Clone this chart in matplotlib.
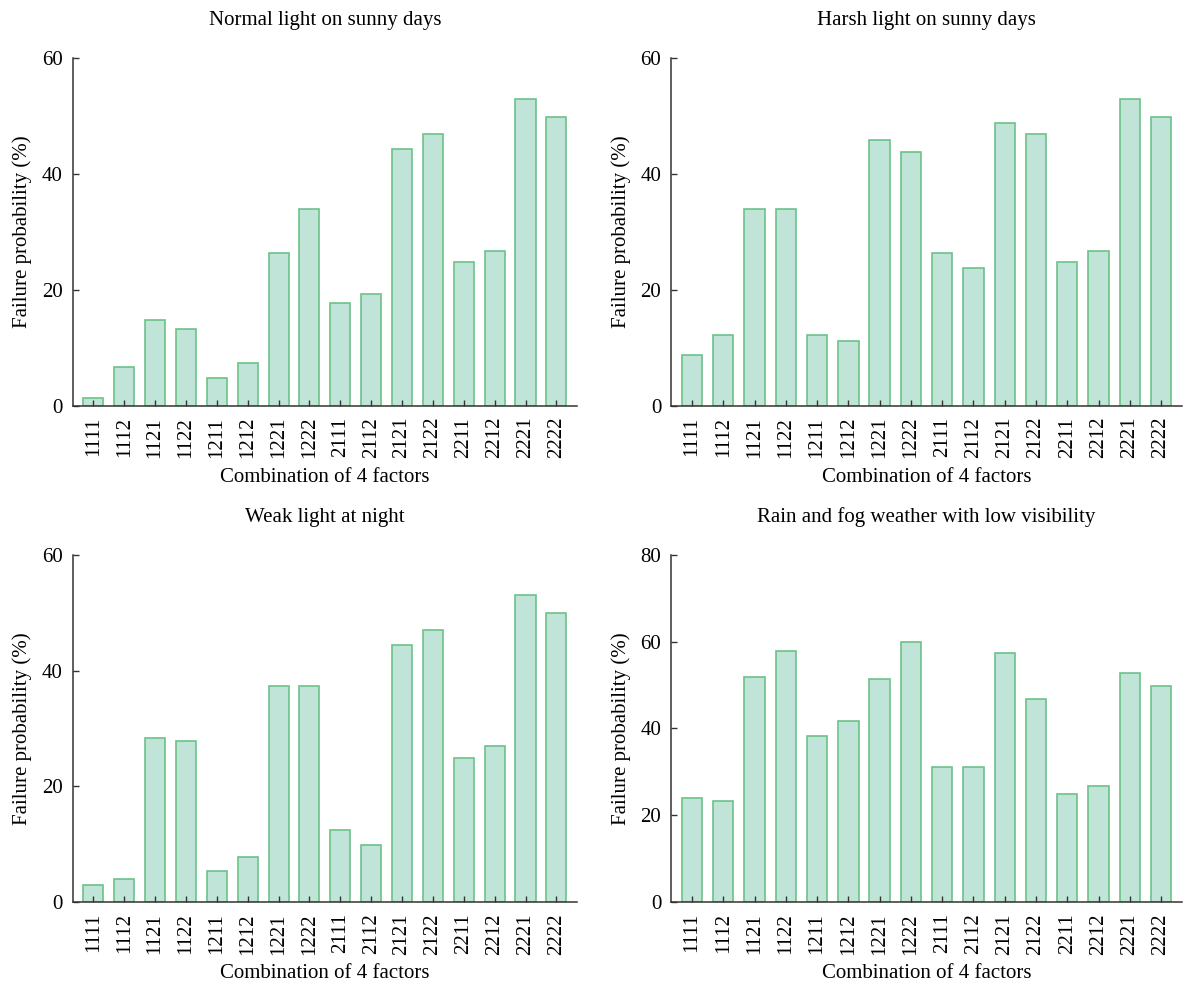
import numpy as np
import matplotlib
matplotlib.use("Agg")
import matplotlib.pyplot as plt

plt.rcParams['font.family'] = ['Liberation Serif', 'DejaVu Serif']

combos = ["1111", "1112", "1121", "1122", "1211", "1212", "1221", "1222",
          "2111", "2112", "2121", "2122", "2211", "2212", "2221", "2222"]

normal_sunny = [1.3, 6.7, 14.8, 13.3, 4.8, 7.3, 26.3, 33.9,
                17.8, 19.3, 44.4, 46.9, 24.9, 26.8, 52.9, 49.9]
harsh_sunny = [8.8, 12.3, 33.9, 33.9, 12.3, 11.2, 45.9, 43.9,
               26.3, 23.8, 48.9, 46.9, 24.8, 26.8, 52.9, 49.9]
weak_night = [2.9, 3.9, 28.4, 27.9, 5.4, 7.8, 37.4, 37.4,
              12.4, 9.8, 44.4, 47.0, 24.9, 26.9, 53.0, 50.0]
rain_fog = [23.9, 23.3, 51.9, 57.9, 38.2, 41.8, 51.3, 59.9,
            31.2, 31.2, 57.3, 46.8, 24.8, 26.8, 52.9, 49.9]

titles = ["Normal light on sunny days", "Harsh light on sunny days",
          "Weak light at night", "Rain and fog weather with low visibility"]
series = [normal_sunny, harsh_sunny, weak_night, rain_fog]
ymaxes = [60, 60, 60, 80]

# axes rectangles in figure fractions
rects = [
    [0.0609, 0.5881, 0.4224, 0.3527],
    [0.5620, 0.5881, 0.4280, 0.3527],
    [0.0609, 0.0843, 0.4224, 0.3523],
    [0.5620, 0.0843, 0.4280, 0.3523],
]

fill_color = "#c0e4d7"
edge_color = "#6cc28a"

fig = plt.figure(figsize=(11.94, 9.85), dpi=100)

for rect, vals, title, ymax in zip(rects, series, titles, ymaxes):
    ax = fig.add_axes(rect)
    x = np.arange(len(combos))
    ax.bar(x, vals, width=0.65, color=fill_color, edgecolor=edge_color, linewidth=1.2)
    ax.set_xlim(-0.67, len(combos) - 1 + 0.67)
    ax.set_ylim(0, ymax)
    ax.set_yticks(np.arange(0, ymax + 1, 20))
    ax.set_xticks(x)
    ax.set_xticklabels(combos, rotation=90)
    for side in ["top", "right"]:
        ax.spines[side].set_visible(False)
    for side in ["left", "bottom"]:
        ax.spines[side].set_color("#333333")
        ax.spines[side].set_linewidth(1.1)
    ax.tick_params(direction="in", length=4, width=1, color="#333333",
                   labelsize=15)
    ax.tick_params(axis="x", pad=8)
    ax.tick_params(axis="y", pad=7)
    ax.set_title(title, fontsize=15, pad=24)
    ax.set_xlabel("Combination of 4 factors", fontsize=15, labelpad=7)
    ax.set_ylabel("Failure probability (%)", fontsize=15, labelpad=7)

fig.savefig("out.png", dpi=100)
